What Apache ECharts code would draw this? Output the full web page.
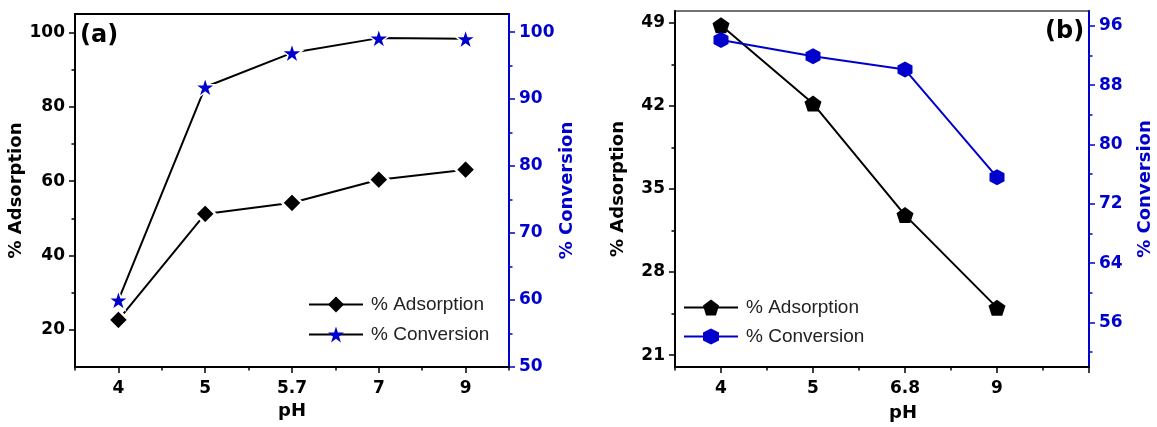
<!DOCTYPE html>
<html>
<head>
<meta charset="utf-8">
<script src="https://cdn.jsdelivr.net/npm/echarts@6/dist/echarts.min.js"></script>
<style>
  html, body { margin: 0; padding: 0; background: #fff; }
  #chart { width: 1157px; height: 427px; }
</style>
</head>
<body>
<div id="chart"></div>
<script>
// ---- Panel (a): pH effect on adsorption and conversion ----
const phA = ['4', '5', '5.7', '7', '9'];
const adsorptionA = [22.7, 51.2, 54.2, 60.4, 63.1];
const conversionA = [60.0, 91.8, 96.9, 99.1, 99.0];
const leftTicksA = [20, 40, 60, 80, 100];
const leftMinorA = [30, 50, 70, 90];
const rightTicksA = [50, 60, 70, 80, 90, 100];
const rightMinorA = [55, 65, 75, 85, 95];

// ---- Panel (b) ----
const phB = ['4', '5', '6.8', '9'];
const adsorptionB = [48.8, 42.2, 32.8, 25.0];
const conversionB = [94.1, 91.9, 90.1, 75.6];
const leftTicksB = [21, 28, 35, 42, 49];
const leftMinorB = [24.5, 31.5, 38.5, 45.5];
const rightTicksB = [56, 64, 72, 80, 88, 96];
const rightMinorB = [52, 60, 68, 76, 84, 92];

const BLUE = '#0000cc';
const TICK_FONT = 'DejaVu Sans';
const STAR = 'path://M100,0 L122.45,69.1 L195.1,69.1 L136.3,111.8 L158.8,180.9 L100,138.2 L41.2,180.9 L63.7,111.8 L4.9,69.1 L77.55,69.1 Z';
const PENTAGON = 'path://M100,0 L195.1,69.1 L158.8,180.9 L41.2,180.9 L4.9,69.1 Z';
const HEXAGON = 'path://M100,0 L186.6,50 L186.6,150 L100,200 L13.4,150 L13.4,50 Z';

// category positions 1..n on a value axis
const pos = arr => arr.map((_, i) => i + 1);
const pairs = (vals) => vals.map((v, i) => [i + 1, v]);

function tickLabel(color) {
  return { color: color, fontFamily: TICK_FONT, fontWeight: 'bold', fontSize: 17 };
}

function xMain(grid, min, max, labels, tickVals) {
  return {
    type: 'value', gridIndex: grid, min: min, max: max, position: 'bottom',
    splitLine: { show: false },
    axisLine: { show: true, lineStyle: { color: '#000', width: 2 } },
    axisTick: { show: true, length: 6, lineStyle: { color: '#000', width: 1.5 }, customValues: tickVals },
    axisLabel: Object.assign(tickLabel('#000'), {
      margin: 13, customValues: pos(labels),
      formatter: v => labels[Math.round(v) - 1] || ''
    }),
    name: 'pH', nameLocation: 'middle', nameGap: 32,
    nameTextStyle: { color: '#000', fontFamily: TICK_FONT, fontWeight: 'bold', fontSize: 18 }
  };
}
function xMinor(grid, min, max, vals) {
  return {
    type: 'value', gridIndex: grid, min: min, max: max, position: 'bottom',
    splitLine: { show: false }, axisLine: { show: false },
    axisTick: { show: true, length: 3.5, lineStyle: { color: '#000', width: 1.5 }, customValues: vals },
    axisLabel: { show: false }
  };
}
function yMain(grid, pos_, min, max, vals, color, name, gap) {
  return {
    type: 'value', gridIndex: grid, position: pos_, min: min, max: max,
    splitLine: { show: false },
    axisLine: { show: true, lineStyle: { color: color, width: 2 } },
    axisTick: { show: true, length: 6, lineStyle: { color: color, width: 1.5 }, customValues: vals },
    axisLabel: Object.assign(tickLabel(color), { margin: 10, customValues: vals }),
    name: name, nameLocation: 'middle', nameRotate: 90, nameGap: gap,
    nameTextStyle: { color: color, fontFamily: TICK_FONT, fontWeight: 'bold', fontSize: 18 }
  };
}
function yMinor(grid, pos_, min, max, vals, color) {
  return {
    type: 'value', gridIndex: grid, position: pos_, min: min, max: max,
    splitLine: { show: false }, axisLine: { show: false },
    axisTick: { show: true, length: 3.5, lineStyle: { color: color, width: 1.5 }, customValues: vals },
    axisLabel: { show: false }
  };
}

const xB = xMain(1, 0.5, 5, phB, [1, 2, 3, 4, 5]);
xB.nameGap = 37;
xB.nameTextStyle.padding = [0, 0, 0, 42];

const legendText = { fontFamily: 'Liberation Sans', fontSize: 19, color: '#222', padding: [0, 0, 0, 3] };

const option = {
  backgroundColor: '#fff',
  animation: false,
  title: [
    { text: '(a)', left: 80, top: 24, padding: 0,
      textStyle: { fontFamily: TICK_FONT, fontWeight: 'bold', fontSize: 24, color: '#000' } },
    { text: '(b)', left: 1045, top: 20, padding: 0,
      textStyle: { fontFamily: TICK_FONT, fontWeight: 'bold', fontSize: 24, color: '#000' } }
  ],
  grid: [
    { left: 75, top: 14, right: 648, bottom: 60, show: true, borderColor: '#000', borderWidth: 2,
      backgroundColor: 'transparent', outerBoundsMode: 'none', containLabel: false },
    { left: 675, top: 11, right: 68, bottom: 60, show: true, borderColor: '#444', borderWidth: 1.5,
      backgroundColor: 'transparent', outerBoundsMode: 'none', containLabel: false }
  ],
  legend: [
    {
      orient: 'vertical', left: 308, top: 295, padding: 0, itemWidth: 54, itemHeight: 20, itemGap: 11,
      itemStyle: { borderWidth: 0 },
      data: ['% Adsorption', '% Conversion'], textStyle: legendText
    },
    {
      orient: 'vertical', left: 683, top: 298, padding: 0, itemWidth: 54, itemHeight: 20, itemGap: 10,
      itemStyle: { borderWidth: 0 },
      data: ['% Adsorption ', '% Conversion '], textStyle: legendText
    }
  ],
  xAxis: [
    xMain(0, 0.5, 5.5, phA, [1, 2, 3, 4, 5]),
    xMinor(0, 0.5, 5.5, [0.5, 1.5, 2.5, 3.5, 4.5, 5.5]),
    xB,
    xMinor(1, 0.5, 5, [0.5, 1.5, 2.5, 3.5, 4.5])
  ],
  yAxis: [
    yMain(0, 'left', 10, 105, leftTicksA, '#000', '% Adsorption', 46),
    yMain(0, 'right', 50, 102.7, rightTicksA, BLUE, '% Conversion', 41),
    yMinor(0, 'left', 10, 105, leftMinorA, '#000'),
    yMinor(0, 'right', 50, 102.7, rightMinorA, BLUE),
    yMain(1, 'left', 20, 50, leftTicksB, '#000', '% Adsorption', 48),
    yMain(1, 'right', 50, 98, rightTicksB, BLUE, '% Conversion', 47),
    yMinor(1, 'left', 20, 50, leftMinorB, '#000'),
    yMinor(1, 'right', 50, 98, rightMinorB, BLUE)
  ],
  series: [
    {
      name: '% Adsorption', type: 'line', xAxisIndex: 0, yAxisIndex: 0,
      data: pairs(adsorptionA), symbol: 'diamond', symbolSize: 20,
      lineStyle: { color: '#000', width: 2 },
      itemStyle: { color: '#000', borderColor: '#fff', borderWidth: 2.5 }
    },
    {
      name: '% Conversion', type: 'line', xAxisIndex: 0, yAxisIndex: 1,
      data: pairs(conversionA), symbol: STAR, symbolSize: [21, 20],
      lineStyle: { color: '#000', width: 2 },
      itemStyle: { color: BLUE, borderColor: '#fff', borderWidth: 1.5 }
    },
    {
      name: '% Adsorption ', type: 'line', xAxisIndex: 2, yAxisIndex: 4,
      data: pairs(adsorptionB), symbol: PENTAGON, symbolSize: [17, 16],
      lineStyle: { color: '#000', width: 2 },
      itemStyle: { color: '#000' }
    },
    {
      name: '% Conversion ', type: 'line', xAxisIndex: 2, yAxisIndex: 5,
      data: pairs(conversionB), symbol: HEXAGON, symbolSize: [15, 16],
      lineStyle: { color: BLUE, width: 2 },
      itemStyle: { color: BLUE }
    }
  ]
};

const chart = echarts.init(document.getElementById('chart'), null, { renderer: 'canvas' });
chart.setOption(option);
</script>
</body>
</html>
